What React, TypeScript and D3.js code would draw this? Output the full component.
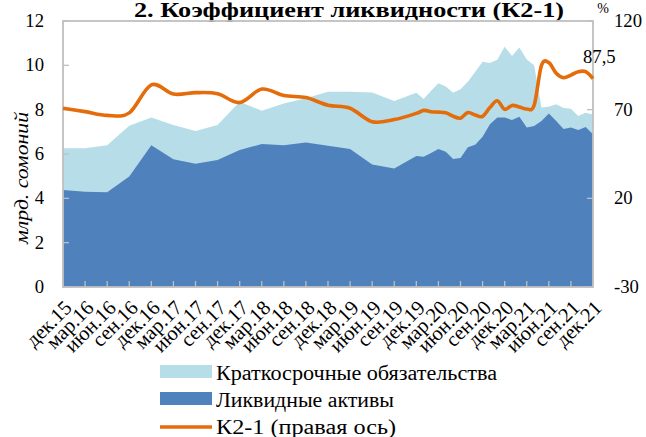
import React from "react";
import * as d3 from "d3";

const monthIndex = [0, 3, 6, 9, 12, 15, 18, 21, 24, 27, 30, 33, 36, 39, 42, 45, 48, 49, 50, 51, 52, 53, 54, 55, 56, 57, 58, 59, 60, 61, 62, 63, 64, 65, 66, 67, 68, 69, 70, 71, 72];
const shortTermLiabilities = [6.26, 6.26, 6.4, 7.28, 7.65, 7.31, 7.04, 7.31, 8.36, 7.95, 8.28, 8.51, 8.81, 8.81, 8.78, 8.39, 8.76, 8.48, 8.85, 9.19, 9.04, 8.76, 8.92, 9.26, 9.71, 10.16, 10.1, 10.25, 10.84, 10.42, 10.8, 10.26, 10.0, 8.1, 8.13, 8.25, 8.07, 8.04, 7.71, 7.86, 7.78];
const liquidAssets = [4.38, 4.3, 4.28, 4.98, 6.4, 5.76, 5.56, 5.73, 6.18, 6.45, 6.4, 6.52, 6.37, 6.22, 5.53, 5.35, 5.91, 5.88, 6.05, 6.22, 6.1, 5.78, 5.82, 6.3, 6.42, 6.78, 7.34, 7.65, 7.65, 7.53, 7.68, 7.2, 7.26, 7.49, 7.83, 7.49, 7.13, 7.2, 7.08, 7.22, 6.89];
const k21 = [70.8, 68.9, 66.8, 68.2, 84.0, 78.8, 79.6, 79.0, 74.0, 81.6, 78.0, 76.8, 72.5, 70.8, 63.2, 64.4, 67.9, 69.6, 68.8, 68.6, 68.3, 66.3, 65.2, 68.4, 67.0, 66.2, 71.2, 75.0, 70.2, 72.4, 71.5, 70.4, 72.4, 95.0, 96.5, 90.5, 88.0, 89.5, 91.4, 91.4, 87.5];
const tickLabels = ["дек.15", "мар.16", "июн.16", "сен.16", "дек.16", "мар.17", "июн.17", "сен.17", "дек.17", "мар.18", "июн.18", "сен.18", "дек.18", "мар.19", "июн.19", "сен.19", "дек.19", "мар.20", "июн.20", "сен.20", "дек.20", "мар.21", "июн.21", "сен.21", "дек.21"];
const leftTicks = [0, 2, 4, 6, 8, 10, 12];
const rightTicks = [-30, 20, 70, 120];
const lastLabel = "87,5";
const title = "2. Коэффициент ликвидности (К2-1)";
const yTitle = "млрд. сомоний";
const legendItems = ["Краткосрочные обязательства", "Ликвидные активы", "К2-1 (правая ось)"];

const FONT = "'Liberation Serif', 'Times New Roman', serif";
const LIGHT = "#B7DDE8";
const DARK = "#4F81BD";
const ORANGE = "#E46C0A";
const GRID = "#BFBFBF";

export default function App() {
  const L = 63, R = 593, T = 21, B = 287;
  const x = d3.scaleLinear().domain([0, 72]).range([L, R]);
  const yL = d3.scaleLinear().domain([0, 12]).range([B, T]);
  const yR = d3.scaleLinear().domain([-30, 120]).range([B, T]);

  const areaL = d3.area<number>().x((_, i) => x(monthIndex[i])).y0(B).y1((d) => yL(d));
  const line = d3.line<number>().x((_, i) => x(monthIndex[i])).y((d) => yR(d)).curve(d3.curveCatmullRom.alpha(0));

  const qTicks = tickLabels.map((_, i) => i * 3);
  const FS = 18.7;

  return (
    <svg width={646} height={437} style={{ position: "absolute", left: 0, top: 0, background: "#fff" }} fontFamily={FONT}>
      <text x={349} y={17} textAnchor="middle" fontWeight="bold" fontSize={20} textLength={430} lengthAdjust="spacingAndGlyphs">{title}</text>
      <text x={603} y={13} textAnchor="middle" fontSize={14}>%</text>

      <path d={areaL(shortTermLiabilities) || ""} fill={LIGHT} />
      <path d={areaL(liquidAssets) || ""} fill={DARK} />

      {leftTicks.map((t) => (
        <line key={"lt" + t} x1={L} x2={L + 6} y1={yL(t)} y2={yL(t)} stroke={GRID} strokeWidth={1.3} />
      ))}
      {rightTicks.map((t) => (
        <line key={"rt" + t} x1={R - 6} x2={R} y1={yR(t)} y2={yR(t)} stroke={GRID} strokeWidth={1.3} />
      ))}
      {qTicks.map((m) => (
        <line key={"bt" + m} x1={x(m)} x2={x(m)} y1={B} y2={B - 6} stroke={GRID} strokeWidth={1.3} />
      ))}
      <rect x={L} y={T} width={R - L} height={B - T} fill="none" stroke={GRID} strokeWidth={1.8} />

      <path d={line(k21) || ""} fill="none" stroke={ORANGE} strokeWidth={3.6} strokeLinejoin="round" />
      <text x={x(72) - 10} y={yR(k21[k21.length - 1]) - 16} fontSize={FS}>{lastLabel}</text>

      {leftTicks.map((t) => (
        <text key={"ll" + t} x={44} y={yL(t) + 6} textAnchor="end" fontSize={FS}>{t}</text>
      ))}
      {rightTicks.map((t) => (
        <text key={"rl" + t} x={614} y={yR(t) + 6} textAnchor="start" fontSize={FS}>{t}</text>
      ))}
      <text transform={`translate(28, 178) rotate(-90)`} textAnchor="middle" fontStyle="italic" fontSize={19} textLength={132} lengthAdjust="spacingAndGlyphs">{yTitle}</text>

      {tickLabels.map((lab, i) => (
        <text key={lab} transform={`translate(${x(qTicks[i]) + 10}, ${B + 22}) rotate(-45)`} textAnchor="end" fontSize={20.5}>{lab}</text>
      ))}

      <rect x={160} y={365} width={52} height={13} fill={LIGHT} />
      <text x={216} y={380} fontSize={20} textLength={281} lengthAdjust="spacingAndGlyphs">{legendItems[0]}</text>
      <rect x={160} y={392} width={52} height={13} fill={DARK} />
      <text x={216} y={407} fontSize={20} textLength={178} lengthAdjust="spacingAndGlyphs">{legendItems[1]}</text>
      <line x1={160} x2={212} y1={427} y2={427} stroke={ORANGE} strokeWidth={3.6} />
      <text x={216} y={434} fontSize={20} textLength={180} lengthAdjust="spacingAndGlyphs">{legendItems[2]}</text>
    </svg>
  );
}
